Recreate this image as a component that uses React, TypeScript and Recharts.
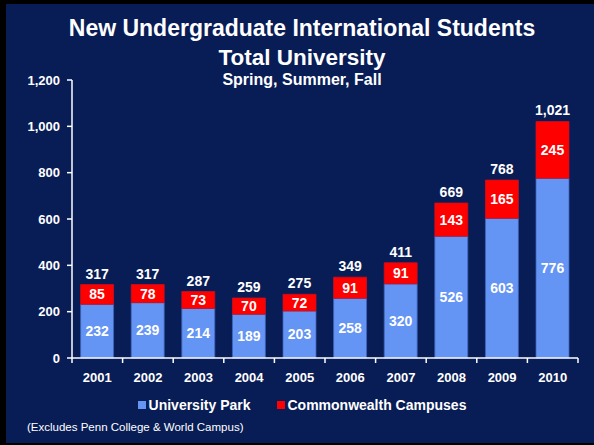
import React from 'react';
import { BarChart, Bar, XAxis, YAxis, LabelList } from 'recharts';

const years = ['2001', '2002', '2003', '2004', '2005', '2006', '2007', '2008', '2009', '2010'];
const universityPark = [232, 239, 214, 189, 203, 258, 320, 526, 603, 776];
const commonwealth = [85, 78, 73, 70, 72, 91, 91, 143, 165, 245];
const yTicks = [0, 200, 400, 600, 800, 1000, 1200];

const data = years.map((y, i) => ({
  year: y,
  up: universityPark[i],
  cc: commonwealth[i],
  total: universityPark[i] + commonwealth[i],
}));

const NAVY = '#081c55';
const BLUE = '#6494f4';
const RED = '#ff0000';
const FONT = '"Liberation Sans", Arial, sans-serif';

const XTick = (props: any) => {
  const { x, y, payload, index, width, visibleTicksCount } = props;
  const half = width / visibleTicksCount / 2;
  const top = y - 8;
  return (
    <g>
      <line x1={x - half} x2={x - half} y1={top} y2={top + 5} stroke="#fff" strokeWidth={1.5} />
      {index === visibleTicksCount - 1 && (
        <line x1={x + half} x2={x + half} y1={top} y2={top + 5} stroke="#fff" strokeWidth={1.5} />
      )}
      <text x={x} y={y + 16} textAnchor="middle" fill="#fff" fontSize={13} fontWeight="bold" fontFamily={FONT}>
        {payload.value}
      </text>
    </g>
  );
};

const titleStyle: React.CSSProperties = {
  position: 'absolute',
  left: 0,
  width: 604,
  textAlign: 'center',
  color: '#fff',
  fontFamily: FONT,
  fontWeight: 'bold',
  fontSize: 23,
  lineHeight: '24px',
  whiteSpace: 'nowrap',
};

export default function App() {
  return (
    <div style={{ position: 'absolute', left: 0, top: 0, width: 594, height: 445, background: '#000' }}>
      <div style={{ position: 'absolute', left: 6, top: 4, width: 588, height: 439, background: NAVY }} />
      <div style={{ ...titleStyle, top: 16 }}>New Undergraduate International Students</div>
      <div style={{ ...titleStyle, top: 46, fontSize: 22.5 }}>Total University</div>
      <div style={{ ...titleStyle, top: 72, fontSize: 16, lineHeight: '16px' }}>Spring, Summer, Fall</div>
      <div style={{ position: 'absolute', left: 0, top: 396, width: 604, display: 'flex', justifyContent: 'center', color: '#fff', fontFamily: FONT, fontWeight: 'bold', fontSize: 14, lineHeight: '18px' }}>
        <span style={{ display: 'inline-flex', alignItems: 'center' }}>
          <span style={{ width: 8, height: 8, background: BLUE, marginRight: 3 }} />University Park
        </span>
        <span style={{ display: 'inline-flex', alignItems: 'center', marginLeft: 26 }}>
          <span style={{ width: 8, height: 8, background: RED, marginRight: 3 }} />Commonwealth Campuses
        </span>
      </div>
      <div style={{ position: 'absolute', left: 27, top: 420, color: '#fff', fontFamily: FONT, fontSize: 11.5, lineHeight: '14px' }}>
        (Excludes Penn College &amp; World Campus)
      </div>
      <div style={{ position: 'absolute', left: 0, top: 0 }}>
        <BarChart width={594} height={445} data={data} margin={{ top: 80, right: 16, bottom: 57, left: 0 }} barCategoryGap="17%">
          <XAxis
            dataKey="year"
            axisLine={{ stroke: '#fff', strokeWidth: 1.5 }}
            tickLine={false}
            tick={<XTick />}
            height={30}
            interval={0}
          />
          <YAxis
            domain={[0, 1200]}
            ticks={yTicks}
            width={72}
            interval={0}
            axisLine={{ stroke: '#fff', strokeWidth: 1.5 }}
            tickLine={{ stroke: '#fff', strokeWidth: 1.5 }}
            tickSize={5}
            tickMargin={7}
            tickFormatter={(v: number) => v.toLocaleString('en-US')}
            tick={{ fill: '#fff', fontSize: 13, fontWeight: 'bold', fontFamily: FONT }}
          />
          <Bar dataKey="up" stackId="a" fill={BLUE} stroke="#3f62b8" strokeWidth={0.8} isAnimationActive={false}>
            <LabelList dataKey="up" position="center" fill="#fff" fontSize={14} fontWeight="bold" fontFamily={FONT} />
          </Bar>
          <Bar dataKey="cc" stackId="a" fill={RED} stroke="#c8101e" strokeWidth={0.8} isAnimationActive={false}>
            <LabelList dataKey="cc" position="center" fill="#fff" fontSize={14} fontWeight="bold" fontFamily={FONT} />
            <LabelList
              dataKey="total"
              position="top"
              offset={6}
              fill="#fff"
              fontSize={14}
              fontWeight="bold"
              fontFamily={FONT}
              formatter={(v: any) => Number(v).toLocaleString('en-US')}
            />
          </Bar>
        </BarChart>
      </div>
    </div>
  );
}
